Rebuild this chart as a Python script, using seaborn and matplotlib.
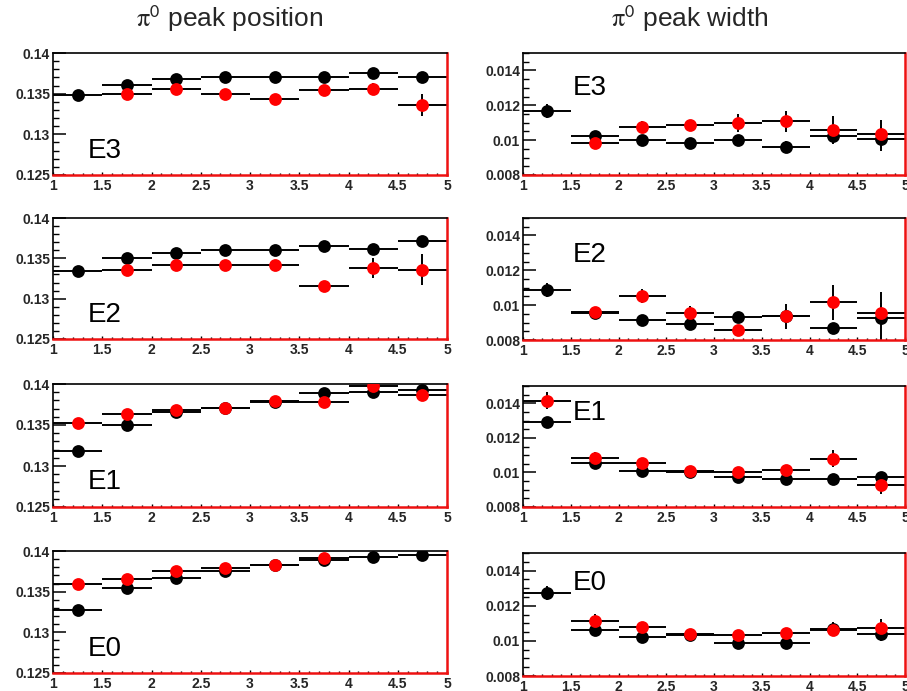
import numpy as np
import pandas as pd
import matplotlib
matplotlib.use("Agg")
import matplotlib.pyplot as plt
import seaborn as sns
from matplotlib.ticker import MultipleLocator, AutoMinorLocator, FuncFormatter

# ---------------- data ----------------
x_centers = [1.25, 1.75, 2.25, 2.75, 3.25, 3.75, 4.25, 4.75]
bin_half = 0.25
nan = np.nan

# peak position (black / red) per energy bin
pos_E3_black = [0.1348, 0.1361, 0.1368, 0.1371, 0.1371, 0.1371, 0.1375, 0.1371]
pos_E3_black_err = [0.0004, 0.0004, 0.0004, 0.0004, 0.0004, 0.0004, 0.0006, 0.0004]
pos_E3_red = [nan, 0.1349, 0.1356, 0.1350, 0.1344, 0.1354, 0.1356, 0.1336]
pos_E3_red_err = [nan, 0.0004, 0.0004, 0.0004, 0.0004, 0.0004, 0.0007, 0.0014]

pos_E2_black = [0.1334, 0.1350, 0.1356, 0.1360, 0.1360, 0.1365, 0.1362, 0.1372]
pos_E2_black_err = [0.0006, 0.0004, 0.0004, 0.0004, 0.0004, 0.0004, 0.0005, 0.0006]
pos_E2_red = [nan, 0.1335, 0.1342, 0.1342, 0.1342, 0.1316, 0.1338, 0.1336]
pos_E2_red_err = [nan, 0.0004, 0.0004, 0.0004, 0.0004, 0.0004, 0.0012, 0.0019]

pos_E1_black = [0.1318, 0.1350, 0.1366, 0.1371, 0.1378, 0.1389, 0.1390, 0.1393]
pos_E1_black_err = [0.0006, 0.0004, 0.0004, 0.0004, 0.0004, 0.0004, 0.0004, 0.0004]
pos_E1_red = [0.1353, 0.1363, 0.1368, 0.1371, 0.1379, 0.1378, 0.1397, 0.1387]
pos_E1_red_err = [0.0006, 0.0004, 0.0004, 0.0004, 0.0004, 0.0004, 0.0004, 0.0004]

pos_E0_black = [0.1327, 0.1355, 0.1367, 0.1375, 0.1383, 0.1389, 0.1393, 0.1395]
pos_E0_black_err = [0.0005, 0.0004, 0.0004, 0.0004, 0.0004, 0.0004, 0.0005, 0.0004]
pos_E0_red = [0.1359, 0.1365, 0.1375, 0.1379, 0.1383, 0.1391, nan, nan]
pos_E0_red_err = [0.0005, 0.0004, 0.0004, 0.0004, 0.0004, 0.0004, nan, nan]

# peak width (black / red) per energy bin
wid_E3_black = [0.01165, 0.01025, 0.01000, 0.00983, 0.01000, 0.00963, 0.01025, 0.01006]
wid_E3_black_err = [0.0004, 0.0003, 0.0003, 0.0003, 0.0003, 0.0003, 0.0004, 0.0007]
wid_E3_red = [nan, 0.00983, 0.01077, 0.01087, 0.01098, 0.01108, 0.01060, 0.01035]
wid_E3_red_err = [nan, 0.0003, 0.0003, 0.0003, 0.0005, 0.0006, 0.0008, 0.0008]

wid_E2_black = [0.01086, 0.00955, 0.00912, 0.00893, 0.00932, 0.00939, 0.00868, 0.00926]
wid_E2_black_err = [0.0004, 0.0003, 0.0003, 0.0003, 0.0003, 0.0004, 0.0003, 0.0015]
wid_E2_red = [nan, 0.00959, 0.01055, 0.00955, 0.00858, 0.00935, 0.01017, 0.00955]
wid_E2_red_err = [nan, 0.0003, 0.0004, 0.0004, 0.0003, 0.0007, 0.0010, 0.0006]

wid_E1_black = [0.01291, 0.01053, 0.01010, 0.01000, 0.00971, 0.00962, 0.00962, 0.00971]
wid_E1_black_err = [0.0003, 0.0003, 0.0003, 0.0003, 0.0003, 0.0003, 0.0003, 0.0003]
wid_E1_red = [0.01415, 0.01086, 0.01053, 0.01010, 0.01004, 0.01015, 0.01080, 0.00928]
wid_E1_red_err = [0.0005, 0.0003, 0.0003, 0.0003, 0.0003, 0.0003, 0.0005, 0.0005]

wid_E0_black = [0.01274, 0.01061, 0.01023, 0.01032, 0.00985, 0.00989, 0.01067, 0.01040]
wid_E0_black_err = [0.0004, 0.0003, 0.0003, 0.0003, 0.0003, 0.0003, 0.0004, 0.0004]
wid_E0_red = [nan, 0.01112, 0.01080, 0.01040, 0.01032, 0.01042, 0.01061, 0.01074]
wid_E0_red_err = [nan, 0.0004, 0.0003, 0.0003, 0.0003, 0.0003, 0.0003, 0.0005]

energy_labels = ["E3", "E2", "E1", "E0"]
col_titles = [r"$\mathrm{\pi}^{\mathsf{0}}$ peak position", r"$\mathrm{\pi}^{\mathsf{0}}$ peak width"]

pos_sets = [
    (pos_E3_black, pos_E3_black_err, pos_E3_red, pos_E3_red_err),
    (pos_E2_black, pos_E2_black_err, pos_E2_red, pos_E2_red_err),
    (pos_E1_black, pos_E1_black_err, pos_E1_red, pos_E1_red_err),
    (pos_E0_black, pos_E0_black_err, pos_E0_red, pos_E0_red_err),
]
wid_sets = [
    (wid_E3_black, wid_E3_black_err, wid_E3_red, wid_E3_red_err),
    (wid_E2_black, wid_E2_black_err, wid_E2_red, wid_E2_red_err),
    (wid_E1_black, wid_E1_black_err, wid_E1_red, wid_E1_red_err),
    (wid_E0_black, wid_E0_black_err, wid_E0_red, wid_E0_red_err),
]

# ---------------- style ----------------
sns.set_theme(style="white")
plt.rcParams["font.family"] = ["Liberation Sans", "DejaVu Sans"]
plt.rcParams["mathtext.fontset"] = "stix"

W, H = 907, 691
fig = plt.figure(figsize=(W / 100, H / 100), dpi=100)
fig.patch.set_facecolor("white")

# axes boxes in pixels: (left, top, right, bottom)
left_boxes = [(53, 53, 447, 175), (53, 218, 447, 339), (53, 384, 447, 507), (53, 551, 447, 673)]
right_boxes = [(523, 53, 905, 175), (523, 218, 905, 340), (523, 386, 905, 507), (523, 553, 905, 676)]

def make_ax(box):
    l, t, r, b = box
    return fig.add_axes([l / W, 1 - b / H, (r - l) / W, (b - t) / H])

fmt = FuncFormatter(lambda v, p: f"{v:g}")

def style_ax(ax, ylim, ymajor, nminor):
    ax.set_xlim(1, 5)
    ax.set_ylim(*ylim)
    ax.set_facecolor("white")
    ax.xaxis.set_major_locator(MultipleLocator(0.5))
    ax.xaxis.set_minor_locator(MultipleLocator(0.1))
    ax.yaxis.set_major_locator(MultipleLocator(ymajor))
    ax.yaxis.set_minor_locator(AutoMinorLocator(nminor))
    ax.xaxis.set_major_formatter(fmt)
    ax.yaxis.set_major_formatter(fmt)
    ax.tick_params(axis="y", which="major", direction="in", length=9, width=1.1,
                   color="black", left=True, right=False, pad=2)
    ax.tick_params(axis="y", which="minor", direction="in", length=4.5, width=1.0,
                   color="black", left=True, right=False)
    ax.tick_params(axis="x", which="major", direction="in", length=2.5, width=1.0,
                   color="black", bottom=True, top=False, pad=3)
    ax.tick_params(axis="x", which="minor", direction="in", length=1.5, width=1.0,
                   color="black", bottom=True, top=False)
    for lab in ax.get_xticklabels() + ax.get_yticklabels():
        lab.set_fontsize(10)
        lab.set_fontweight("bold")
    ax.spines["left"].set_color("black")
    ax.spines["top"].set_color("black")
    ax.spines["left"].set_linewidth(1.2)
    ax.spines["top"].set_linewidth(1.2)
    ax.spines["bottom"].set_color("#ee1111")
    ax.spines["right"].set_color("#ee1111")
    ax.spines["bottom"].set_linewidth(1.8)
    ax.spines["right"].set_linewidth(1.8)
    ax.set_xlabel("")
    ax.set_ylabel("")

def draw(ax, black, black_err, red, red_err):
    df = pd.DataFrame({
        "x": x_centers * 2,
        "y": list(black) + list(red),
        "series": ["black"] * len(x_centers) + ["red"] * len(x_centers),
    })
    for name, yerr, colr in (("black", black_err, "black"), ("red", red_err, "#ff0000")):
        sub = df[df["series"] == name]
        ax.errorbar(sub["x"], sub["y"], xerr=bin_half, yerr=yerr, fmt="none",
                    ecolor="black", elinewidth=1.4, capsize=0, zorder=2)
        sns.scatterplot(data=sub, x="x", y="y", color=colr, s=85, marker="o",
                        edgecolor=colr, linewidth=0, ax=ax, zorder=3, legend=False)

for i, box in enumerate(left_boxes):
    ax = make_ax(box)
    draw(ax, *pos_sets[i])
    style_ax(ax, (0.125, 0.14), 0.005, 5)
    ax.text(0.088, 0.2, energy_labels[i], transform=ax.transAxes, fontsize=20,
            ha="left", va="center", color="black")

for i, box in enumerate(right_boxes):
    ax = make_ax(box)
    draw(ax, *wid_sets[i])
    style_ax(ax, (0.008, 0.015), 0.002, 4)
    ypos = [0.71, 0.70, 0.78, 0.76][i]
    ax.text(0.13, ypos, energy_labels[i], transform=ax.transAxes, fontsize=20,
            ha="left", va="center", color="black")

fig.text(230 / W, 1 - 27 / H, col_titles[0], ha="center", va="baseline", fontsize=19)
fig.text(690 / W, 1 - 27 / H, col_titles[1], ha="center", va="baseline", fontsize=19)

fig.savefig("out.png", dpi=100, facecolor="white")
